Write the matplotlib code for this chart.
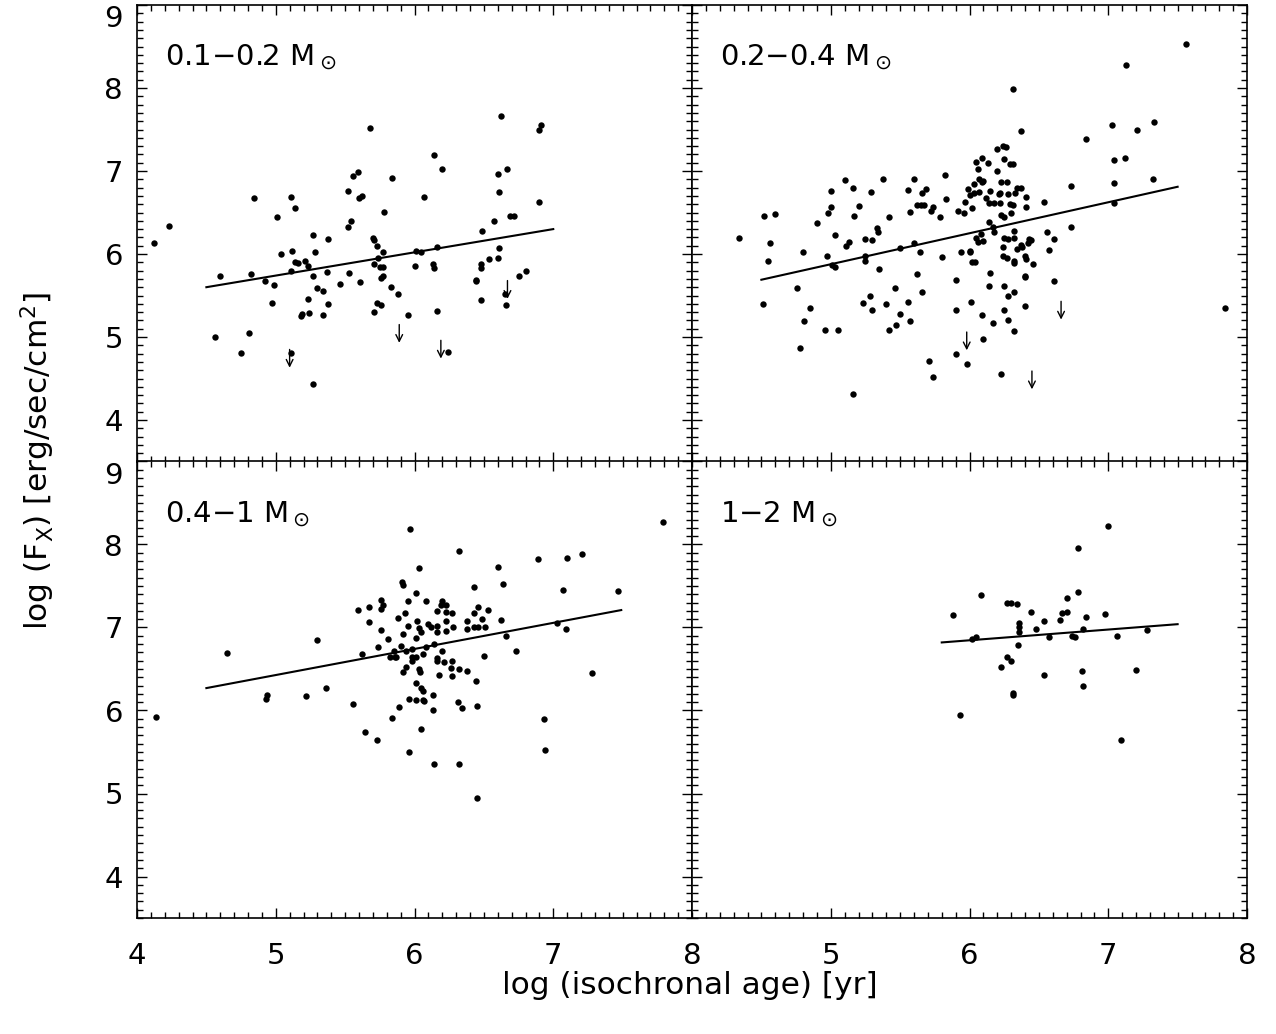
import numpy as np
import matplotlib
matplotlib.use("Agg")
from matplotlib import pyplot as plt
from matplotlib.ticker import MultipleLocator

# ---- data ----
# panel 1: 0.1-0.2 Msun
age_1 = [4.12, 4.23, 4.56, 4.60, 4.75, 4.81, 4.82, 4.84, 4.92, 4.97, 4.99, 5.01, 5.04,
         5.11, 5.11, 5.12, 5.11, 5.14, 5.14, 5.16, 5.18, 5.19, 5.21, 5.23, 5.23, 5.24,
         5.27, 5.27, 5.28, 5.27, 5.30, 5.34, 5.34, 5.37, 5.38, 5.38, 5.46, 5.52, 5.52,
         5.53, 5.54, 5.56, 5.59, 5.60, 5.62, 5.61, 5.68, 5.70, 5.71, 5.73, 5.71, 5.74,
         5.75, 5.77, 5.76, 5.77, 5.77, 5.78, 5.73, 5.76, 5.71, 5.83, 5.84, 5.88, 5.95,
         6.00, 6.01, 6.05, 6.07, 6.13, 6.14, 6.16, 6.14, 6.20, 6.16, 6.24, 6.44, 6.44,
         6.48, 6.48, 6.48, 6.49, 6.54, 6.57, 6.60, 6.61, 6.60, 6.61, 6.62, 6.67, 6.65,
         6.66, 6.69, 6.72, 6.75, 6.80, 6.90, 6.90, 6.91]
fx_1 = [6.13, 6.34, 5.00, 5.73, 4.81, 5.05, 5.76, 6.67, 5.67, 5.41, 5.63, 6.45, 6.00,
        6.69, 5.79, 6.04, 4.81, 6.56, 5.90, 5.89, 5.25, 5.28, 5.92, 5.86, 5.46, 5.29,
        6.23, 5.73, 6.03, 4.43, 5.59, 5.55, 5.27, 5.78, 6.18, 5.40, 5.64, 6.33, 6.76,
        5.77, 6.40, 6.94, 6.99, 6.67, 6.70, 5.66, 7.52, 6.19, 6.17, 6.10, 5.88, 5.95,
        5.84, 5.84, 5.71, 5.73, 6.02, 6.51, 5.41, 5.38, 5.30, 5.60, 6.92, 5.52, 5.26,
        5.86, 6.04, 6.02, 6.69, 5.88, 5.83, 6.08, 7.19, 7.02, 5.31, 4.82, 5.69, 5.67,
        5.88, 5.83, 5.45, 6.28, 5.94, 6.40, 5.95, 6.07, 6.96, 6.75, 7.66, 7.02, 5.52,
        5.38, 6.46, 6.46, 5.74, 5.80, 6.63, 7.50, 7.56]
lim_age_1 = [5.10, 5.89, 6.19, 6.67]
lim_fx_1 = [4.85, 5.15, 4.96, 5.68]
fit_age_1 = [4.50, 7.00]
fit_fx_1 = [5.60, 6.30]

# panel 2: 0.2-0.4 Msun
age_2 = [4.34, 4.52, 4.60, 4.56, 4.55, 4.51, 4.76, 4.80, 4.78, 4.81, 4.85, 4.90, 4.96,
         4.97, 4.98, 5.00, 5.00, 5.01, 5.03, 5.03, 5.05, 5.10, 5.11, 5.13, 5.16, 5.17,
         5.16, 5.20, 5.23, 5.25, 5.25, 5.25, 5.28, 5.29, 5.30, 5.30, 5.33, 5.34, 5.35,
         5.38, 5.40, 5.42, 5.42, 5.46, 5.47, 5.50, 5.50, 5.56, 5.56, 5.57, 5.57, 5.60,
         5.60, 5.62, 5.62, 5.64, 5.65, 5.66, 5.66, 5.67, 5.69, 5.71, 5.72, 5.74, 5.74,
         5.79, 5.80, 5.82, 5.83, 5.90, 5.90, 5.90, 5.92, 5.94, 5.96, 5.97, 5.98, 5.99,
         6.00, 6.00, 6.00, 6.01, 6.02, 6.02, 6.03, 6.03, 6.04, 6.05, 6.06, 6.05, 6.06,
         6.07, 6.07, 6.08, 6.09, 6.09, 6.10, 6.10, 6.09, 6.10, 6.12, 6.13, 6.14, 6.14,
         6.14, 6.15, 6.15, 6.17, 6.17, 6.18, 6.18, 6.20, 6.20, 6.21, 6.22, 6.23, 6.22,
         6.23, 6.23, 6.24, 6.25, 6.24, 6.25, 6.24, 6.25, 6.25, 6.25, 6.26, 6.27, 6.27,
         6.28, 6.28, 6.28, 6.28, 6.29, 6.29, 6.30, 6.31, 6.31, 6.31, 6.32, 6.32, 6.32,
         6.32, 6.32, 6.32, 6.33, 6.34, 6.34, 6.37, 6.37, 6.37, 6.38, 6.40, 6.40, 6.40,
         6.41, 6.40, 6.41, 6.41, 6.42, 6.43, 6.44, 6.46, 6.54, 6.56, 6.57, 6.61, 6.61,
         6.73, 6.73, 6.84, 7.03, 7.04, 7.04, 7.04, 7.12, 7.13, 7.21, 7.33, 7.32, 7.56,
         7.84]
fx_2 = [6.19, 6.46, 6.48, 6.13, 5.91, 5.40, 5.59, 6.03, 4.87, 5.19, 5.35, 6.37, 5.08,
        5.98, 6.50, 6.76, 6.57, 5.87, 6.23, 5.84, 5.09, 6.89, 6.10, 6.15, 6.80, 6.46,
        4.31, 6.58, 5.41, 6.18, 5.97, 5.92, 5.49, 6.75, 6.17, 5.32, 6.31, 6.27, 5.82,
        6.90, 5.40, 6.45, 5.08, 5.59, 5.15, 6.07, 5.28, 6.77, 5.42, 5.19, 6.51, 6.13,
        6.90, 5.76, 6.59, 6.02, 6.59, 6.74, 5.54, 6.59, 6.78, 4.71, 6.52, 6.57, 4.52,
        6.44, 5.96, 6.95, 6.66, 5.69, 5.33, 4.79, 6.52, 6.02, 6.50, 6.63, 4.68, 6.78,
        6.71, 6.04, 6.02, 5.42, 6.55, 5.90, 6.84, 6.74, 5.90, 7.11, 7.02, 6.19, 6.15,
        6.75, 6.90, 6.24, 7.16, 6.87, 6.88, 6.16, 5.27, 4.98, 6.67, 7.10, 6.61, 5.62,
        6.38, 5.77, 6.76, 6.32, 5.17, 6.61, 6.26, 7.00, 7.27, 6.72, 6.74, 6.87, 6.62,
        6.47, 4.55, 7.30, 7.14, 6.09, 6.19, 5.98, 5.62, 5.32, 6.44, 7.29, 6.87, 5.95,
        5.21, 6.72, 6.18, 5.49, 7.09, 6.60, 6.50, 7.99, 7.09, 6.59, 6.19, 5.92, 5.89,
        6.28, 5.54, 5.07, 6.73, 6.80, 6.06, 7.48, 6.79, 6.11, 6.08, 5.72, 5.74, 5.98,
        5.94, 5.37, 6.69, 6.57, 6.13, 6.18, 6.17, 5.88, 6.63, 6.27, 6.05, 6.18, 5.67,
        6.82, 6.32, 7.38, 7.56, 7.13, 6.86, 6.62, 7.16, 8.28, 7.49, 7.59, 6.90, 8.53,
        5.35]
lim_age_2 = [5.98, 6.66, 6.45]
lim_fx_2 = [5.06, 5.43, 4.59]
fit_age_2 = [4.50, 7.50]
fit_fx_2 = [5.69, 6.81]

# panel 3: 0.4-1 Msun
age_3 = [4.14, 4.65, 4.93, 4.94, 5.22, 5.30, 5.36, 5.56, 5.59, 5.62, 5.64, 5.67, 5.67,
         5.73, 5.74, 5.76, 5.77, 5.76, 5.76, 5.81, 5.82, 5.84, 5.85, 5.86, 5.87, 5.88,
         5.89, 5.90, 5.91, 5.92, 5.92, 5.93, 5.92, 5.94, 5.94, 5.95, 5.95, 5.96, 5.96,
         5.97, 5.98, 5.98, 5.98, 6.01, 6.01, 6.01, 6.01, 6.01, 6.02, 6.03, 6.03, 6.03,
         6.04, 6.05, 6.05, 6.06, 6.06, 6.06, 6.05, 6.08, 6.08, 6.07, 6.10, 6.12, 6.13,
         6.13, 6.14, 6.14, 6.16, 6.16, 6.16, 6.16, 6.16, 6.18, 6.19, 6.20, 6.20, 6.21,
         6.23, 6.23, 6.23, 6.23, 6.26, 6.27, 6.27, 6.27, 6.28, 6.31, 6.32, 6.32, 6.32,
         6.34, 6.38, 6.38, 6.38, 6.43, 6.43, 6.44, 6.43, 6.45, 6.45, 6.46, 6.46, 6.49,
         6.50, 6.51, 6.53, 6.60, 6.62, 6.64, 6.66, 6.73, 6.89, 6.93, 6.94, 7.03, 7.07,
         7.09, 7.10, 7.21, 7.28, 7.47, 7.79]
fx_3 = [5.92, 6.69, 6.14, 6.19, 6.17, 6.85, 6.27, 6.08, 7.21, 6.68, 5.74, 7.25, 7.07,
        5.65, 6.76, 7.33, 7.27, 7.22, 6.97, 6.86, 6.64, 5.91, 6.72, 6.65, 6.65, 7.12,
        6.04, 6.78, 7.55, 7.51, 6.92, 7.18, 6.46, 6.72, 6.53, 7.32, 7.02, 6.14, 5.50,
        8.19, 6.74, 6.60, 6.65, 6.87, 7.41, 6.33, 6.13, 6.65, 7.08, 7.72, 6.50, 6.99,
        6.46, 6.94, 6.27, 6.23, 6.13, 6.68, 5.78, 7.32, 6.76, 6.12, 7.04, 7.00, 6.19,
        6.00, 6.80, 5.35, 6.63, 6.60, 7.20, 7.02, 6.94, 6.43, 7.27, 6.72, 7.32, 6.59,
        7.27, 7.19, 7.08, 6.96, 6.51, 7.17, 6.60, 6.41, 7.00, 6.10, 7.92, 6.50, 5.35,
        6.03, 7.08, 6.47, 6.98, 7.49, 7.18, 6.36, 7.01, 6.06, 4.94, 7.25, 7.00, 7.10,
        6.66, 7.00, 7.21, 7.73, 7.09, 7.52, 6.90, 6.72, 7.82, 5.90, 5.53, 7.05, 7.45,
        6.98, 7.84, 7.88, 6.45, 7.44, 8.27]
fit_age_3 = [4.50, 7.49]
fit_fx_3 = [6.27, 7.21]

# panel 4: 1-2 Msun
age_4 = [5.88, 5.93, 6.02, 6.05, 6.08, 6.23, 6.27, 6.30, 6.34, 6.27, 6.30, 6.31, 6.31,
         6.35, 6.36, 6.36, 6.36, 6.44, 6.48, 6.54, 6.54, 6.57, 6.65, 6.67, 6.70, 6.70,
         6.74, 6.76, 6.78, 6.78, 6.81, 6.82, 6.82, 6.84, 6.98, 7.00, 7.06, 7.09, 7.20,
         7.28]
fx_4 = [7.15, 5.94, 6.86, 6.88, 7.39, 6.53, 7.29, 7.29, 7.28, 6.65, 6.60, 6.21, 6.19,
        6.79, 7.06, 7.01, 6.94, 7.19, 6.98, 7.08, 6.43, 6.88, 7.09, 7.17, 7.19, 7.36,
        6.90, 6.88, 7.43, 7.96, 6.47, 6.29, 6.98, 7.13, 7.16, 8.22, 6.90, 5.65, 6.49,
        6.97]
fit_age_4 = [5.80, 7.50]
fit_fx_4 = [6.82, 7.04]

labels = ["0.1\u22120.2 M$_\\odot$", "0.2\u22120.4 M$_\\odot$",
          "0.4\u22121 M$_\\odot$", "1\u22122 M$_\\odot$"]

panels = [
    (age_1, fx_1, lim_age_1, lim_fx_1, fit_age_1, fit_fx_1),
    (age_2, fx_2, lim_age_2, lim_fx_2, fit_age_2, fit_fx_2),
    (age_3, fx_3, [], [], fit_age_3, fit_fx_3),
    (age_4, fx_4, [], [], fit_age_4, fit_fx_4),
]

plt.rcParams['font.family'] = ['DejaVu Sans']
plt.rcParams['mathtext.fontset'] = 'dejavusans'

W, H = 1276, 1034
fig = plt.figure(figsize=(W / 100, H / 100), dpi=100)

left, right, top, bottom = 137, 1247, 5, 918
pw = (right - left) / 2
ph = (bottom - top) / 2

for i, (ax_x, ax_y, lx, ly, fxs, fys) in enumerate(panels):
    col = i % 2
    row = i // 2
    x0 = (left + col * pw) / W
    y0 = 1 - (top + (row + 1) * ph) / H
    ax = fig.add_axes([x0, y0, pw / W, ph / H])

    ax.plot(ax_x, ax_y, 'o', color='black', ms=4.6, mew=0)
    ax.plot(fxs, fys, '-', color='black', lw=1.5)
    # upper limits
    for xa, ya in zip(lx, ly):
        ax.annotate('', xy=(xa, ya - 0.22), xytext=(xa, ya),
                    arrowprops=dict(arrowstyle='->', color='black', lw=1.0,
                                    mutation_scale=12, shrinkA=0, shrinkB=0))

    ax.set_xlim(4, 8)
    ax.set_ylim(3.5, 9.0)
    ax.xaxis.set_major_locator(MultipleLocator(1))
    ax.xaxis.set_minor_locator(MultipleLocator(0.1))
    ax.yaxis.set_major_locator(MultipleLocator(1))
    ax.yaxis.set_minor_locator(MultipleLocator(0.1))
    ax.tick_params(which='both', direction='in', top=True, right=True, width=1.0)
    ax.tick_params(which='major', length=7.5)
    ax.tick_params(which='minor', length=4)
    ax.tick_params(axis='x', pad=17, labelsize=21)
    ax.tick_params(axis='y', pad=10, labelsize=21)
    for s in ax.spines.values():
        s.set_linewidth(1.2)

    if row == 0:
        ax.tick_params(axis='x', labelbottom=False)
    if col == 1:
        ax.tick_params(axis='y', labelleft=False)
        if row == 1:
            ax.set_xticks([5, 6, 7, 8])
    else:
        ax.set_yticks([4, 5, 6, 7, 8, 9])
        # the top label sits inside the frame, as in the original
        ax.get_yticklabels()[-1].set_verticalalignment('top')

    ax.text(0.05, 0.868, labels[i], transform=ax.transAxes, fontsize=21,
            ha='left', va='baseline')

fig.text(690 / W, 1 - 985 / H, 'log (isochronal age) [yr]', fontsize=22.5,
         ha='center', va='center')
fig.text(38 / W, 1 - 461 / H, 'log (F$_\\mathrm{X}$) [erg/sec/cm$^2$]', fontsize=22.5,
         ha='center', va='center', rotation=90)

fig.savefig('out.png', dpi=100)
